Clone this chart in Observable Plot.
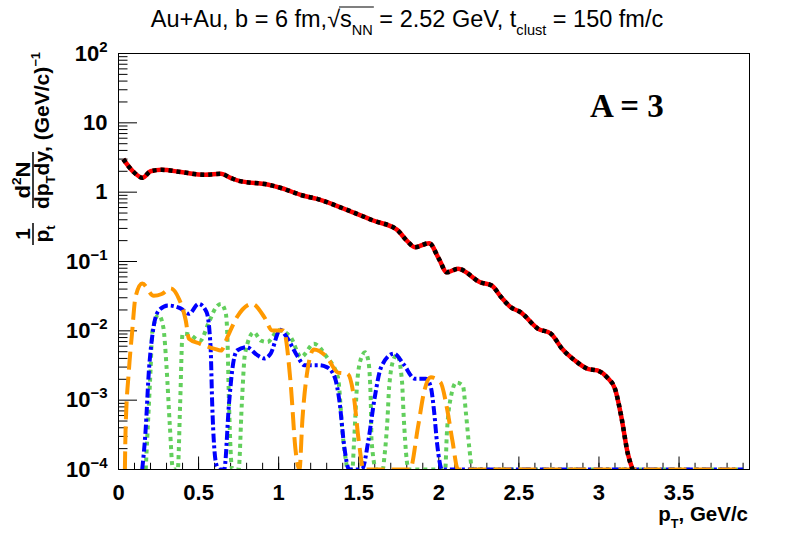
<!DOCTYPE html>
<html><head><meta charset="utf-8">
<script src="https://cdn.jsdelivr.net/npm/d3@7"></script>
<script src="https://cdn.jsdelivr.net/npm/@observablehq/plot@0.6"></script>
<style>body{margin:0;background:#fff} svg{display:block}</style>
</head><body><div id="chart"></div>
<script>
// ---- data ----
const redX = [0.03,0.09,0.15,0.20,0.27,0.39,0.54,0.64,0.70,0.76,0.93,1.02,1.15,1.24,1.41,1.59,1.74,1.80,1.85,1.94,2.00,2.05,2.12,2.26,2.33,2.39,2.45,2.51,2.62,2.70,2.77,2.85,2.93,2.99,3.05,3.10,3.14,3.18,3.21];
const redY = [3.0,2.0,1.61,2.0,2.10,1.95,1.78,1.84,1.61,1.44,1.29,1.14,0.895,0.80,0.575,0.39,0.286,0.20,0.161,0.184,0.110,0.070,0.0785,0.050,0.045,0.0305,0.0219,0.0186,0.0107,0.0091,0.0055,0.00373,0.00283,0.00268,0.00214,0.00146,0.00057,0.00017,0.0001];

const orangeX = [0.04,0.044,0.065,0.085,0.106,0.148,0.22,0.27,0.325,0.377,0.42,0.44,0.51,0.60,0.64,0.68,0.74,0.835,0.91,0.96,1.03,1.075,1.106,1.13,1.148,1.18,1.22,1.30,1.37,1.43,1.47,1.50,1.53,1.82,1.87,1.91,1.95,2.01,2.05,2.085,2.12,3.90];
const orangeY = [0.0001,0.00036,0.0027,0.0095,0.0305,0.048,0.032,0.034,0.041,0.029,0.0141,0.0077,0.0065,0.0055,0.0052,0.0081,0.0158,0.0245,0.0158,0.0101,0.0101,0.00174,0.000186,0.0001,0.00051,0.0027,0.0054,0.0042,0.0025,0.0024,0.0011,0.00026,0.0001,0.0001,0.00041,0.00138,0.00214,0.00182,0.00079,0.00026,0.0001,0.0001];

const blueX = [0.148,0.169,0.19,0.21,0.25,0.31,0.39,0.44,0.50,0.55,0.575,0.585,0.61,0.63,0.66,0.69,0.71,0.74,0.80,0.87,0.91,0.95,1.01,1.05,1.12,1.16,1.25,1.30,1.35,1.38,1.41,1.44,1.52,1.56,1.60,1.64,1.72,1.78,1.85,1.92,1.95,1.97,1.99,2.02,3.90];
const blueY = [0.0001,0.00036,0.0027,0.0081,0.0195,0.0232,0.0209,0.0176,0.0245,0.0186,0.0058,0.00089,0.00012,0.0001,0.0001,0.00089,0.0027,0.0052,0.0058,0.0044,0.0040,0.0047,0.0104,0.0081,0.0042,0.0032,0.0032,0.0030,0.00214,0.00095,0.00021,0.0001,0.0001,0.00026,0.0011,0.0030,0.0047,0.0033,0.00204,0.00204,0.00155,0.00071,0.00023,0.0001,0.0001];

const greenX = [0.17,0.18,0.20,0.21,0.22,0.25,0.28,0.30,0.32,0.34,0.37,0.385,0.40,0.44,0.51,0.56,0.61,0.64,0.67,0.68,0.69,0.71,0.75,0.77,0.79,0.845,0.89,0.93,1.00,1.075,1.14,1.22,1.30,1.37,1.40,1.42,1.43,1.46,1.47,1.49,1.51,1.54,1.56,1.575,1.58,1.61,1.65,1.66,1.68,1.69,1.72,1.74,1.77,1.78,1.80,1.81,2.04,2.05,2.075,2.11,2.15,2.17,2.19,2.21,3.90];
const greenY = [0.0001,0.00030,0.0027,0.0091,0.0120,0.0170,0.0112,0.0030,0.00045,0.0001,0.0001,0.0009,0.0091,0.0089,0.0072,0.0126,0.0219,0.0245,0.0178,0.0081,0.00089,0.0001,0.0001,0.00089,0.0047,0.0095,0.0072,0.0069,0.0102,0.0081,0.0042,0.0065,0.0042,0.00214,0.00032,0.000135,0.0001,0.0001,0.00023,0.00174,0.0037,0.0049,0.0037,0.0010,0.00026,0.0001,0.0001,0.00015,0.00056,0.00155,0.0040,0.0045,0.0019,0.00063,0.000135,0.0001,0.0001,0.00032,0.0011,0.0018,0.00162,0.00063,0.00021,0.0001,0.0001];

const xMajorTicks = [0, 0.5, 1, 1.5, 2, 2.5, 3, 3.5];
const xTickLabels = ["0", "0.5", "1", "1.5", "2", "2.5", "3", "3.5"];
const yMajorTicks = [1e-4, 1e-3, 1e-2, 1e-1, 1, 10, 100];
const yTickLabels = ["10^−4", "10^−3", "10^−2", "10^−1", "1", "10", "10^2"];

// minor ticks
const xMinorTicks = d3.range(1, 40).map(i => i / 10);
const yMinorTicks = [];
for (const d of yMajorTicks.slice(0, -1)) for (let k = 2; k <= 9; k++) yMinorTicks.push(k * d);

const toRows = (xs, ys) => xs.map((x, i) => ({x, y: ys[i]}));
const red = toRows(redX, redY), orange = toRows(orangeX, orangeY),
      blue = toRows(blueX, blueY), green = toRows(greenX, greenY);

const lineOpts = {x: "x", y: "y", curve: "monotone-x", strokeLinecap: "butt", strokeLinejoin: "round", clip: true};
const FONT = "'Liberation Sans', Arial, Helvetica, sans-serif";

const plot = Plot.plot({
  width: 788, height: 534,
  marginLeft: 118, marginRight: 39, marginTop: 53, marginBottom: 65,
  x: {domain: [0, 3.94], label: null},
  y: {type: "log", domain: [1e-4, 100], label: null},
  style: {fontFamily: FONT, background: "white", color: "black"},
  marks: [
    Plot.axisX(xMinorTicks, {tickSize: -6.25, fill: "none", stroke: "black", label: null}),
    Plot.axisX(xMajorTicks, {tickSize: -12.5, fill: "none", stroke: "black", label: null}),
    Plot.axisX(xMajorTicks, {tickSize: 0, tickPadding: 15, tickFormat: d => xTickLabels[xMajorTicks.indexOf(d)], fontSize: 22, fontWeight: "bold", fill: "black", label: null}),
    Plot.axisY(yMinorTicks, {tickSize: -9.5, fill: "none", stroke: "black", label: null}),
    Plot.axisY(yMajorTicks, {tickSize: -19, fill: "none", stroke: "black", label: null}),
    Plot.axisY(yMajorTicks, {tickSize: 0, tickPadding: 11, tickFormat: d => yTickLabels[yMajorTicks.indexOf(d)], fontSize: 22, fontWeight: "bold", fill: "black", label: null}),
    Plot.line(green, {...lineOpts, stroke: "#62cf5c", strokeWidth: 4, strokeDasharray: "4,4"}),
    Plot.line(blue, {...lineOpts, stroke: "#0000ff", strokeWidth: 4, strokeDasharray: "9,3,3,3"}),
    Plot.line(orange, {...lineOpts, stroke: "#ff9900", strokeWidth: 4, strokeDasharray: "18,7"}),
    Plot.line(red, {...lineOpts, stroke: "#ff0000", strokeWidth: 4.5}),
    Plot.line(red, {...lineOpts, stroke: "#000000", strokeWidth: 4.5, strokeDasharray: "4,4"}),
    Plot.frame({stroke: "black", strokeWidth: 1})
  ]
});
document.getElementById("chart").append(plot);

const svg = d3.select(plot);

// superscripts in y tick labels
svg.selectAll("g[aria-label='y-axis tick label'] text").each(function () {
  const s = this.textContent;
  if (s.includes("^")) {
    const [base, exp] = s.split("^");
    const t = d3.select(this);
    t.text(null);
    t.append("tspan").text(base);
    t.append("tspan").attr("dy", -9).attr("font-size", 15).text(exp);
  }
});

function rich(parent, x, y, segs, {size = 18, weight = "bold", anchor = "start", family = FONT} = {}) {
  const t = parent.append("text").attr("x", x).attr("y", y)
    .attr("font-size", size).attr("font-weight", weight)
    .attr("text-anchor", anchor).attr("font-family", family).attr("fill", "black");
  let shift = 0;
  for (const s of segs) {
    const target = s.sub ? size * 0.32 : s.sup ? -size * 0.45 : 0;
    const ts = t.append("tspan").attr("dy", target - shift).text(s.t);
    if (s.sub || s.sup) ts.attr("font-size", size * 0.62);
    shift = target;
  }
  return t;
}

// title
const title = rich(svg, 407, 27, [
  {t: "Au+Au, b = 6 fm,√"}, {t: "s"}, {t: "NN", sub: true},
  {t: " = 2.52 GeV, t"}, {t: "clust", sub: true}, {t: " = 150 fm/c"}
], {size: 23.5, weight: "normal", anchor: "middle"});
// sqrt bar
{
  const node = title.node();
  const full = node.textContent;
  const i0 = full.indexOf("√");
  const i1 = full.indexOf("NN") + 1;
  const x0 = node.getEndPositionOfChar(i0).x - 1;
  const x1 = node.getEndPositionOfChar(i1).x + 1;
  svg.append("line").attr("x1", x0).attr("x2", x1).attr("y1", 7).attr("y2", 7)
    .attr("stroke", "black").attr("stroke-width", 1.2);
}

// A = 3
rich(svg, 590, 117, [{t: "A = 3"}], {size: 33, weight: "bold", family: "'Liberation Serif', 'Times New Roman', serif"});

// x title
rich(svg, 748, 521, [{t: "p"}, {t: "T", sub: true}, {t: ", GeV/c"}], {size: 20.5, anchor: "end"});

// y title (rotated)
const c = 0.95;
const g = svg.append("g").attr("transform", `rotate(-90) scale(1,${c})`);
rich(g, -234, 30 / c, [{t: "1"}], {size: 21, anchor: "middle"});
g.append("line").attr("x1", -245).attr("x2", -223).attr("y1", 33 / c).attr("y2", 33 / c).attr("stroke", "black").attr("stroke-width", 1.6);
rich(g, -234, 49 / c, [{t: "p"}, {t: "t", sub: true}], {size: 21, anchor: "middle"});
rich(g, -180, 30 / c, [{t: "d"}, {t: "2", sup: true}, {t: "N"}], {size: 22, anchor: "middle"});
g.append("line").attr("x1", -208).attr("x2", -152).attr("y1", 33 / c).attr("y2", 33 / c).attr("stroke", "black").attr("stroke-width", 1.6);
rich(g, -180, 49 / c, [{t: "dp"}, {t: "T", sub: true}, {t: "dy"}], {size: 21, anchor: "middle"});
rich(g, -152, 49 / c, [{t: ", (GeV/c)"}, {t: "−1", sup: true}], {size: 21, anchor: "start"});
</script>
</body></html>
